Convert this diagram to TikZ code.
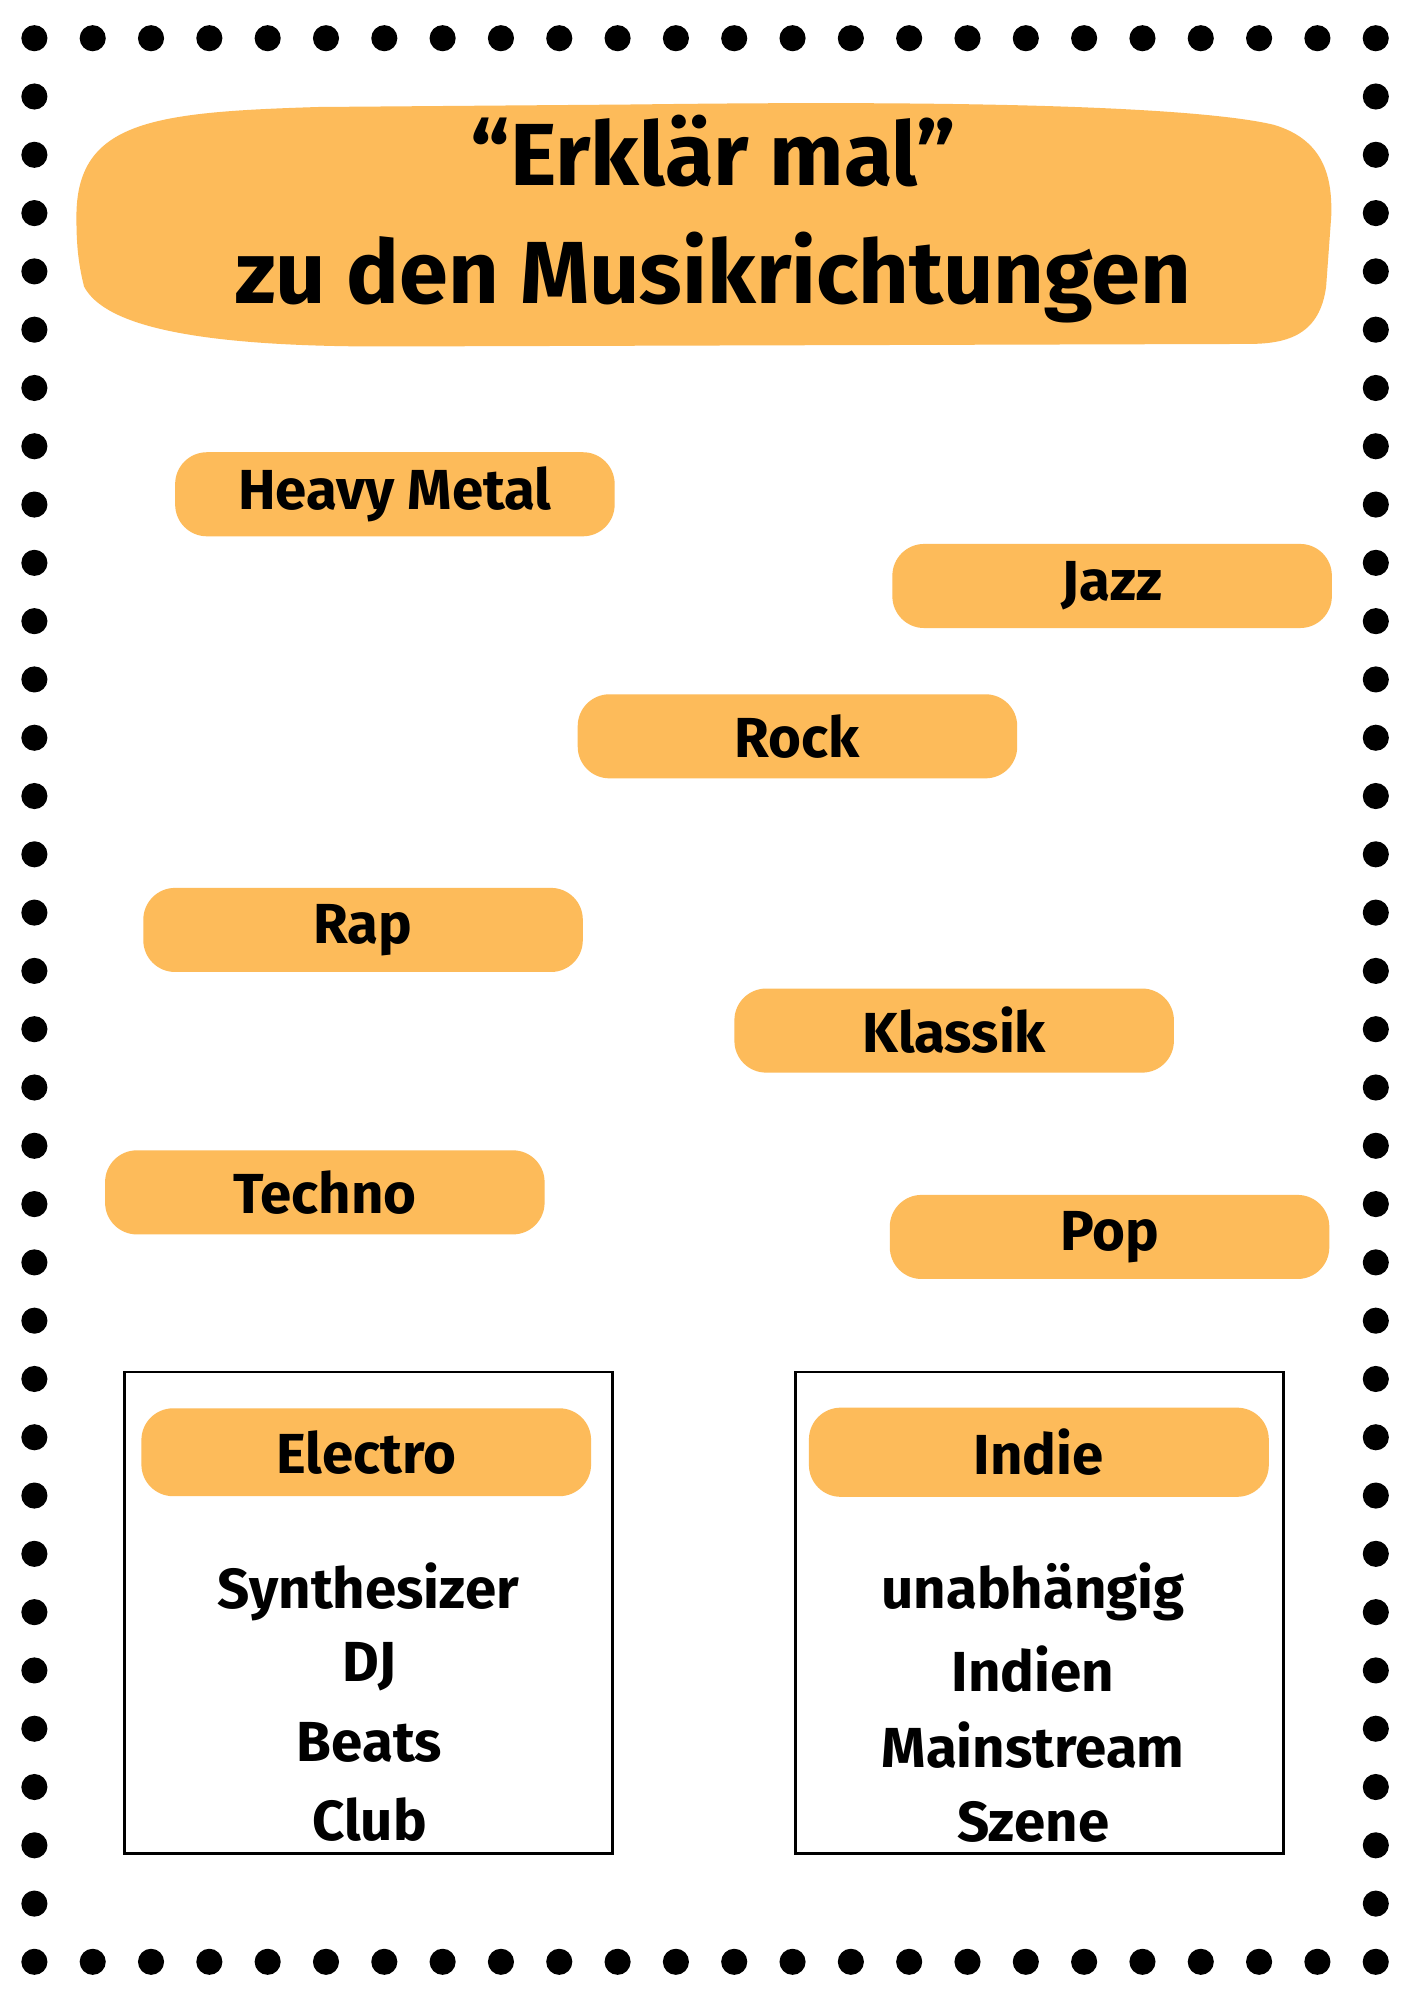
\documentclass[tikz,border=0pt]{standalone}
\usepackage{fontspec}
\setmainfont{Fira Sans}
\usepackage{tikz}
\newlength{\pxu}
\setlength{\pxu}{0.36116pt}
\definecolor{barorange}{RGB}{253,187,90}
\tikzset{
  genre/.style={fill=barorange, rounded corners=9pt, minimum width=345\pxu,
    minimum height=66\pxu, inner sep=0mm, font=\bfseries\fontsize{16}{18}\selectfont
  },
  card/.style={draw, line width=0.8pt, rectangle, minimum width=383\pxu,
    minimum height=378\pxu
  },
  word/.style={font=\bfseries\fontsize{16}{18}\selectfont, inner sep=0mm
  }
}

\begin{document}
\begin{tikzpicture}[x=1\pxu, y=-1\pxu]
   \useasboundingbox[fill=white] (0,0) rectangle (1110,1570);

   % dotted frame
   \foreach \i in {0,...,23} {
      \fill (27+45.78*\i,30) circle[radius=3.7pt];
      \fill (27+45.78*\i,1540) circle[radius=3.7pt];
   }
   \foreach \j in {1,...,32} {
      \fill (27,30+45.76*\j) circle[radius=3.7pt];
      \fill (1080,30+45.76*\j) circle[radius=3.7pt];
   }

   % title
   \fill[barorange] (60,170) .. controls (60,95) and (120,88) .. (250,84)
      -- (500,82) .. controls (800,78) and (950,86) .. (1000,98)
      .. controls (1040,110) and (1046,140) .. (1045,170)
      -- (1041,225) .. controls (1036,262) and (1012,270) .. (980,270)
      -- (300,272) .. controls (150,272) and (82,255) .. (66,225)
      .. controls (61,205) and (60,190) .. (60,170) -- cycle;
   \node[align=center, font=\bfseries\fontsize{25}{33.6}\selectfont] (title) at (560,172)
      {“Erklär mal”\\zu den Musikrichtungen};

   \node[genre] (heavy) at (310,388) {Heavy Metal};
   \node[genre] (jazz) at (873,460) {Jazz};
   \node[genre] (rock) at (626,578) {Rock};
   \node[genre] (rap) at (285,730) {Rap};
   \node[genre] (klassik) at (749,809) {Klassik};
   \node[genre] (techno) at (255,936) {Techno};
   \node[genre] (pop) at (871,971) {Pop};

   \node[card] (electrobox) at (289.5,1266) {};
   \node[card] (indiebox) at (816,1266) {};
   \node[genre, minimum width=353\pxu, minimum height=69\pxu] (electro) at (287.5,1140) {Electro};
   \node[genre, minimum width=361\pxu, minimum height=70\pxu] (indie) at (815.5,1140) {Indie};

   \node[word] (synth) at (289,1250) {Synthesizer};
   \node[word] (dj) at (290,1308) {DJ};
   \node[word] (beats) at (290,1368) {Beats};
   \node[word] (club) at (290,1428) {Club};
   \node[word] (unab) at (811,1250) {unabhängig};
   \node[word] (indien) at (811,1310) {Indien};
   \node[word] (main) at (811,1370) {Mainstream};
   \node[word] (szene) at (811,1430) {Szene};
\end{tikzpicture}
\end{document}
